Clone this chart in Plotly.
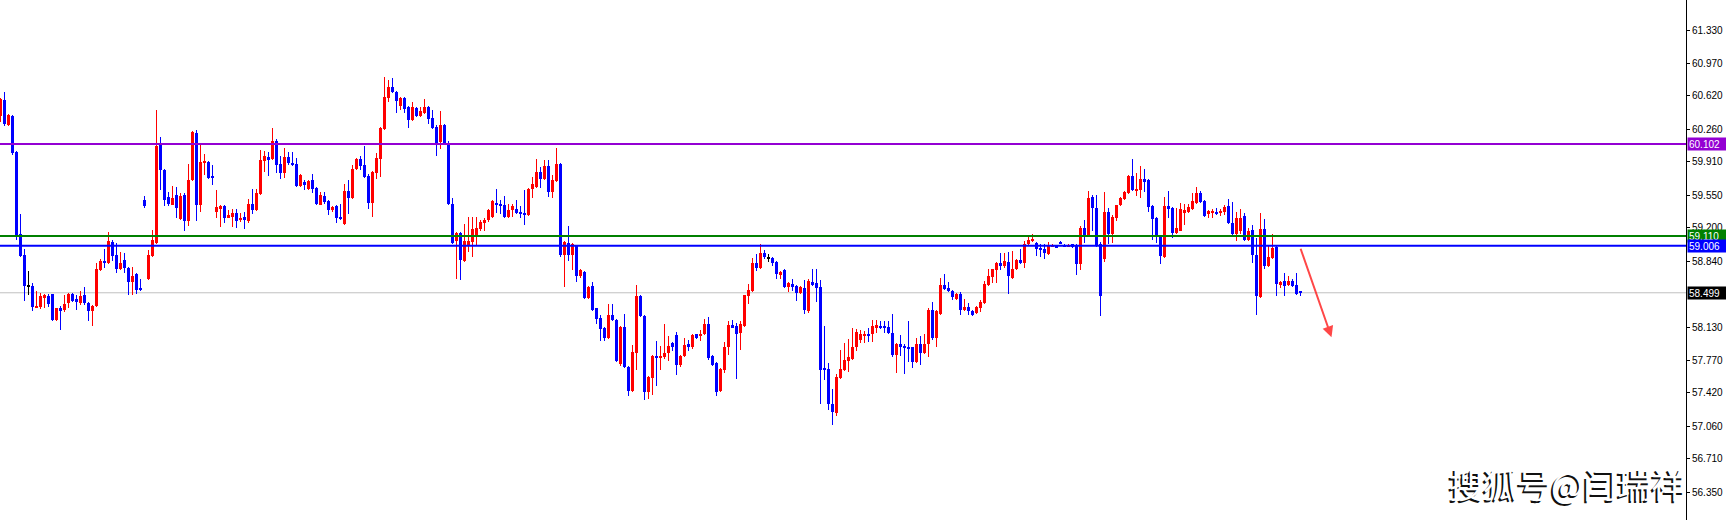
import plotly.graph_objs as go

# OHLC values (one entry per bar, left to right)
open_ = [
    60.40, 60.58, 60.31, 60.40, 60.02, 59.13, 58.91, 58.57, 58.57, 58.34,
    58.35, 58.44, 58.46, 58.49, 58.21, 58.33, 58.31, 58.39, 58.49, 58.43,
    58.39, 58.47, 58.39, 58.30, 58.36, 58.74, 58.84, 58.82, 59.05, 58.91,
    58.75, 58.85, 58.77, 58.62, 58.70, 58.55, 59.50, 58.65, 58.90, 59.04,
    60.09, 59.82, 59.53, 59.45, 59.55, 59.29, 59.55, 59.27, 59.71, 60.22,
    59.44, 59.90, 59.91, 59.75, 59.37, 59.40, 59.43, 59.31, 59.32, 59.36,
    59.28, 59.32, 59.27, 59.46, 59.39, 59.56, 59.92, 59.96, 59.94, 60.14,
    59.89, 59.79, 59.96, 59.90, 59.89, 59.65, 59.69, 59.62, 59.71, 59.63,
    59.45, 59.54, 59.49, 59.39, 59.43, 59.32, 59.24, 59.60, 59.52, 59.83,
    59.94, 59.88, 59.76, 59.47, 59.79, 59.94, 60.26, 60.60, 60.72, 60.66,
    60.51, 60.60, 60.50, 60.36, 60.49, 60.40, 60.44, 60.50, 60.38, 60.29,
    60.12, 60.31, 60.11, 59.46, 59.06, 59.14, 58.84, 59.00, 59.05, 59.11,
    59.19, 59.25, 59.28, 59.32, 59.47, 59.46, 59.44, 59.32, 59.39, 59.40,
    59.37, 59.36, 59.34, 59.62, 59.64, 59.80, 59.72, 59.86, 59.59, 59.70,
    59.89, 58.91, 59.04, 58.91, 59.00, 58.68, 58.72, 58.44, 58.57, 58.33,
    58.23, 58.12, 58.01, 58.26, 58.21, 57.73, 58.13, 57.70, 57.44, 57.85,
    58.46, 58.25, 57.43, 57.58, 57.82, 57.80, 57.81, 57.85, 57.96, 58.04,
    57.72, 57.82, 57.95, 57.91, 58.05, 58.03, 58.05, 58.16, 57.82, 57.74,
    57.44, 57.67, 57.91, 58.15, 58.14, 58.07, 58.14, 58.46, 58.52, 58.82,
    58.77, 58.93, 58.87, 58.87, 58.83, 58.70, 58.74, 58.56, 58.59, 58.57,
    58.50, 58.55, 58.30, 58.61, 58.60, 58.56, 57.68, 57.68, 57.30, 57.20,
    57.58, 57.67, 57.76, 57.79, 57.91, 57.99, 58.04, 58.05, 58.05, 58.13,
    58.14, 58.13, 58.13, 58.07, 57.83, 57.95, 57.93, 57.92, 57.91, 57.75,
    57.95, 57.85, 57.95, 58.31, 58.01, 58.27, 58.58, 58.55, 58.52, 58.43,
    58.49, 58.31, 58.35, 58.30, 58.28, 58.34, 58.39, 58.58, 58.67, 58.74,
    58.82, 58.79, 58.83, 58.66, 58.75, 58.85, 58.82, 59.02, 59.06, 59.04,
    58.98, 58.97, 58.92, 59.00, 59.00, 59.05, 59.01, 59.00, 59.02, 59.01,
    58.81, 59.20, 59.11, 59.53, 59.41, 59.02, 58.86, 59.37, 59.13, 59.31,
    59.44, 59.51, 59.57, 59.76, 59.60, 59.61, 59.72, 59.71, 59.43, 59.31,
    59.10, 58.89, 59.43, 59.41, 59.14, 59.17, 59.36, 59.37, 59.40, 59.47,
    59.57, 59.49, 59.35, 59.36, 59.37, 59.36, 59.37, 59.43, 59.25, 59.13,
    59.17, 59.33, 59.07, 59.18, 58.91, 58.45, 59.19, 58.79, 58.87, 58.99,
    58.58, 58.63, 58.58, 58.63, 58.58, 58.51,
]
high = [
    60.60, 60.66, 60.43, 60.41, 60.03, 59.35, 58.97, 58.73, 58.60, 58.52,
    58.50, 58.49, 58.49, 58.49, 58.34, 58.36, 58.48, 58.50, 58.50, 58.47,
    58.52, 58.56, 58.40, 58.37, 58.82, 58.86, 58.97, 59.15, 59.07, 59.04,
    58.94, 58.93, 58.78, 58.78, 58.71, 58.65, 59.54, 58.96, 59.18, 60.47,
    60.18, 59.83, 59.59, 59.65, 59.64, 59.57, 59.57, 59.89, 60.24, 60.25,
    60.11, 59.99, 59.92, 59.88, 59.61, 59.44, 59.44, 59.39, 59.40, 59.40,
    59.36, 59.37, 59.51, 59.62, 59.62, 60.04, 60.03, 60.02, 60.27, 60.16,
    59.97, 60.06, 60.02, 60.02, 59.95, 59.78, 59.71, 59.71, 59.78, 59.64,
    59.59, 59.58, 59.50, 59.43, 59.44, 59.46, 59.67, 59.71, 59.88, 59.95,
    59.97, 60.08, 59.78, 59.81, 60.00, 60.29, 60.82, 60.79, 60.81, 60.67,
    60.61, 60.61, 60.51, 60.55, 60.50, 60.50, 60.59, 60.51, 60.47, 60.31,
    60.46, 60.32, 60.14, 59.52, 59.15, 59.15, 59.24, 59.32, 59.32, 59.32,
    59.28, 59.31, 59.40, 59.50, 59.62, 59.50, 59.54, 59.46, 59.46, 59.50,
    59.43, 59.61, 59.63, 59.75, 59.94, 59.85, 59.93, 59.93, 59.77, 60.06,
    59.90, 59.06, 59.22, 59.04, 59.01, 58.76, 58.73, 58.57, 58.62, 58.34,
    58.26, 58.13, 58.38, 58.38, 58.22, 58.14, 58.27, 57.71, 57.94, 58.58,
    58.47, 58.26, 57.60, 57.83, 57.98, 57.93, 58.16, 58.03, 57.97, 58.08,
    57.83, 58.01, 57.99, 58.05, 58.06, 58.10, 58.22, 58.24, 57.83, 57.75,
    57.69, 57.97, 58.20, 58.21, 58.17, 58.19, 58.48, 58.59, 58.87, 58.92,
    59.02, 58.96, 58.92, 58.88, 58.84, 58.73, 58.75, 58.61, 58.65, 58.58,
    58.57, 58.64, 58.65, 58.75, 58.75, 58.64, 58.14, 57.74, 57.46, 57.62,
    57.88, 57.96, 58.00, 58.12, 58.11, 58.10, 58.09, 58.12, 58.21, 58.21,
    58.19, 58.19, 58.19, 58.27, 57.96, 58.04, 57.95, 58.19, 57.92, 58.01,
    58.03, 58.05, 58.33, 58.40, 58.31, 58.66, 58.70, 58.62, 58.53, 58.50,
    58.51, 58.43, 58.39, 58.31, 58.36, 58.42, 58.63, 58.75, 58.76, 58.83,
    58.93, 58.93, 58.94, 58.95, 58.86, 58.97, 59.06, 59.12, 59.13, 59.05,
    59.02, 59.03, 59.05, 59.02, 59.01, 59.06, 59.02, 59.02, 59.03, 59.02,
    59.22, 59.28, 59.60, 59.55, 59.55, 59.05, 59.59, 59.41, 59.34, 59.45,
    59.53, 59.60, 59.77, 59.94, 59.79, 59.87, 59.83, 59.72, 59.44, 59.32,
    59.11, 59.53, 59.60, 59.42, 59.41, 59.47, 59.46, 59.46, 59.57, 59.64,
    59.60, 59.50, 59.39, 59.40, 59.41, 59.40, 59.45, 59.51, 59.48, 59.37,
    59.40, 59.36, 59.20, 59.23, 59.09, 59.36, 59.29, 59.00, 59.13, 59.00,
    58.63, 58.71, 58.68, 58.65, 58.71, 58.52,
]
low = [
    60.34, 60.30, 60.30, 59.98, 59.07, 58.89, 58.41, 58.48, 58.30, 58.33,
    58.32, 58.33, 58.35, 58.19, 58.20, 58.10, 58.29, 58.33, 58.40, 58.31,
    58.37, 58.37, 58.20, 58.14, 58.35, 58.73, 58.77, 58.81, 58.84, 58.71,
    58.74, 58.71, 58.47, 58.47, 58.49, 58.52, 59.41, 58.64, 58.89, 59.03,
    59.61, 59.43, 59.43, 59.44, 59.30, 59.28, 59.16, 59.22, 59.70, 59.27,
    59.37, 59.77, 59.72, 59.66, 59.31, 59.21, 59.25, 59.30, 59.21, 59.20,
    59.26, 59.19, 59.25, 59.35, 59.38, 59.55, 59.80, 59.76, 59.93, 59.79,
    59.73, 59.74, 59.88, 59.86, 59.64, 59.64, 59.61, 59.61, 59.57, 59.44,
    59.44, 59.46, 59.34, 59.37, 59.25, 59.28, 59.23, 59.35, 59.51, 59.82,
    59.82, 59.74, 59.40, 59.32, 59.72, 59.75, 60.25, 60.55, 60.65, 60.44,
    60.47, 60.44, 60.28, 60.35, 60.39, 60.39, 60.43, 60.32, 60.26, 59.97,
    60.05, 60.10, 59.45, 59.02, 58.65, 58.64, 58.83, 58.94, 58.89, 59.01,
    59.16, 59.16, 59.26, 59.31, 59.36, 59.35, 59.31, 59.31, 59.32, 59.35,
    59.31, 59.23, 59.33, 59.52, 59.63, 59.63, 59.71, 59.53, 59.52, 59.69,
    58.89, 58.56, 58.84, 58.74, 58.61, 58.66, 58.43, 58.43, 58.30, 58.16,
    57.98, 57.98, 58.00, 58.20, 57.75, 57.71, 57.69, 57.39, 57.43, 57.67,
    58.24, 57.34, 57.35, 57.40, 57.49, 57.67, 57.79, 57.76, 57.87, 57.61,
    57.70, 57.81, 57.87, 57.89, 58.00, 57.98, 58.04, 57.78, 57.71, 57.39,
    57.43, 57.64, 57.83, 58.12, 57.57, 57.88, 58.13, 58.38, 58.51, 58.73,
    58.76, 58.86, 58.83, 58.79, 58.65, 58.65, 58.55, 58.51, 58.52, 58.41,
    58.49, 58.27, 58.28, 58.57, 58.40, 57.30, 57.56, 57.24, 57.07, 57.17,
    57.57, 57.66, 57.65, 57.78, 57.87, 57.96, 57.96, 57.97, 57.97, 58.07,
    58.11, 58.07, 58.05, 57.81, 57.64, 57.82, 57.62, 57.75, 57.69, 57.74,
    57.72, 57.84, 57.81, 57.99, 57.91, 58.26, 58.53, 58.51, 58.42, 58.42,
    58.26, 58.30, 58.26, 58.25, 58.27, 58.29, 58.38, 58.57, 58.60, 58.60,
    58.74, 58.77, 58.49, 58.65, 58.74, 58.81, 58.77, 59.00, 59.05, 58.90,
    58.89, 58.86, 58.91, 58.99, 58.98, 59.02, 58.99, 58.99, 58.98, 58.69,
    58.74, 59.04, 59.10, 59.17, 58.99, 58.25, 58.83, 59.03, 59.04, 59.27,
    59.43, 59.50, 59.56, 59.60, 59.54, 59.52, 59.58, 59.37, 59.07, 59.04,
    58.81, 58.87, 59.31, 59.09, 59.13, 59.16, 59.23, 59.36, 59.39, 59.46,
    59.47, 59.32, 59.30, 59.30, 59.34, 59.33, 59.34, 59.24, 59.12, 59.06,
    59.13, 59.06, 59.06, 58.82, 58.26, 58.44, 58.75, 58.78, 58.86, 58.46,
    58.55, 58.46, 58.57, 58.56, 58.48, 58.46,
]
close = [
    60.59, 60.32, 60.41, 60.01, 59.11, 58.90, 58.57, 58.57, 58.35, 58.36,
    58.46, 58.48, 58.38, 58.21, 58.33, 58.31, 58.38, 58.49, 58.41, 58.40,
    58.46, 58.39, 58.30, 58.36, 58.76, 58.84, 58.82, 59.06, 58.90, 58.75,
    58.82, 58.77, 58.62, 58.68, 58.53, 58.53, 59.43, 58.91, 59.07, 60.08,
    59.82, 59.50, 59.46, 59.52, 59.41, 59.54, 59.27, 59.71, 60.23, 59.44,
    59.91, 59.92, 59.74, 59.74, 59.42, 59.43, 59.31, 59.34, 59.36, 59.27,
    59.31, 59.28, 59.46, 59.39, 59.57, 59.93, 59.97, 59.94, 60.14, 59.88,
    59.79, 59.96, 59.90, 59.88, 59.65, 59.77, 59.66, 59.70, 59.62, 59.46,
    59.55, 59.48, 59.39, 59.42, 59.31, 59.29, 59.60, 59.52, 59.83, 59.94,
    59.87, 59.75, 59.47, 59.80, 59.95, 60.27, 60.61, 60.72, 60.66, 60.57,
    60.60, 60.48, 60.36, 60.50, 60.40, 60.46, 60.50, 60.37, 60.27, 60.11,
    60.31, 60.11, 59.46, 59.04, 59.14, 58.85, 59.06, 59.06, 59.19, 59.20,
    59.26, 59.28, 59.39, 59.49, 59.45, 59.44, 59.32, 59.39, 59.43, 59.36,
    59.35, 59.34, 59.62, 59.67, 59.80, 59.72, 59.86, 59.59, 59.71, 59.89,
    58.91, 59.05, 58.91, 59.03, 58.68, 58.74, 58.44, 58.56, 58.31, 58.22,
    58.11, 58.01, 58.26, 58.21, 57.76, 58.13, 57.70, 57.44, 57.86, 58.46,
    58.25, 57.43, 57.59, 57.82, 57.80, 57.82, 57.85, 57.93, 57.92, 57.72,
    57.82, 57.94, 57.91, 58.04, 58.01, 58.06, 58.16, 57.80, 57.72, 57.43,
    57.68, 57.91, 58.15, 58.13, 58.05, 58.16, 58.47, 58.53, 58.82, 58.77,
    58.93, 58.88, 58.87, 58.82, 58.70, 58.72, 58.56, 58.60, 58.56, 58.50,
    58.56, 58.31, 58.63, 58.59, 58.55, 57.67, 57.67, 57.30, 57.21, 57.59,
    57.68, 57.77, 57.81, 57.92, 58.08, 58.05, 58.06, 58.04, 58.14, 58.15,
    58.13, 58.12, 58.07, 57.83, 57.95, 57.92, 57.91, 57.90, 57.75, 57.95,
    57.85, 57.95, 58.31, 58.01, 58.30, 58.58, 58.54, 58.52, 58.45, 58.49,
    58.31, 58.35, 58.30, 58.26, 58.35, 58.40, 58.59, 58.68, 58.75, 58.82,
    58.79, 58.84, 58.68, 58.76, 58.85, 58.82, 59.02, 59.07, 59.08, 58.97,
    58.96, 58.93, 59.01, 59.01, 58.99, 59.03, 59.00, 59.01, 59.00, 58.81,
    59.20, 59.11, 59.52, 59.41, 59.00, 58.46, 59.37, 59.13, 59.32, 59.44,
    59.52, 59.58, 59.76, 59.61, 59.62, 59.72, 59.70, 59.42, 59.29, 59.10,
    58.90, 59.43, 59.40, 59.14, 59.20, 59.40, 59.39, 59.42, 59.49, 59.57,
    59.48, 59.33, 59.38, 59.38, 59.35, 59.37, 59.42, 59.25, 59.13, 59.31,
    59.31, 59.07, 59.17, 58.91, 58.46, 59.19, 58.79, 58.89, 58.98, 58.59,
    58.62, 58.57, 58.63, 58.57, 58.49, 58.499,
]

# price axis labels as printed on the right scale
tick_vals = [61.330, 60.970, 60.620, 60.260, 59.910, 59.550, 59.200,
             58.840, 58.130, 57.770, 57.420, 57.060, 56.710, 56.350]

# horizontal levels drawn on the chart and their tag colours
level_vals = [60.102, 59.110, 59.006]
level_colors = ["#9400D3", "#008000", "#0000FF"]
last_price = 58.499

UP = "#FF0000"
DOWN = "#0000FF"
DOJI = "#000000"
FONT = "Tahoma, Liberation Sans, Arial, sans-serif"


def candle_colors():
    cols = []
    for o, c in zip(open_, close):
        if c > o:
            cols.append(UP)
        elif c < o:
            cols.append(DOWN)
        else:
            cols.append(DOJI)
    return cols


def mk_candles():
    idx = list(range(len(close)))
    cols = candle_colors()
    # wicks: thin bars from low to high
    wicks = go.Bar(
        x=idx,
        base=low,
        y=[h - l for h, l in zip(high, low)],
        width=0.25,
        marker=dict(color=cols, line=dict(width=0)),
        hoverinfo="skip",
    )
    # bodies: a doji still gets a one pixel body
    bodies = go.Bar(
        x=idx,
        base=[min(o, c) for o, c in zip(open_, close)],
        y=[max(abs(c - o), 0.011) for o, c in zip(open_, close)],
        width=0.75,
        marker=dict(color=cols, line=dict(width=0)),
        customdata=list(zip(open_, high, low, close)),
        hovertemplate="O %{customdata[0]}<br>H %{customdata[1]}<br>"
        "L %{customdata[2]}<br>C %{customdata[3]}<extra></extra>",
    )
    return [wicks, bodies]


fig = go.Figure(data=mk_candles())

shapes = []
annotations = []
for val, col in zip(level_vals, level_colors):
    shapes.append(
        dict(type="line", xref="paper", x0=0, x1=1, yref="y", y0=val, y1=val,
             line=dict(color=col, width=2), layer="above")
    )
shapes.append(
    dict(type="line", xref="paper", x0=0, x1=1, yref="y", y0=last_price,
         y1=last_price, line=dict(color="#C0C0C0", width=1), layer="below")
)

# price tags on the scale
for val, col in zip(level_vals + [last_price], level_colors + ["#000000"]):
    annotations.append(
        dict(
            x=1, xref="paper", xanchor="left", xshift=1,
            y=val, yref="y", yanchor="middle",
            text=f"{val:.3f}", showarrow=False,
            bgcolor=col, borderpad=1, width=37, height=10, align="left",
            font=dict(family=FONT, size=10, color="white"),
        )
    )

# the hand drawn red arrow
annotations.append(
    dict(
        x=332.75, y=58.02, xref="x", yref="y",
        ax=324.9, ay=58.99, axref="x", ayref="y",
        showarrow=True, arrowhead=2, arrowsize=1.1, arrowwidth=2,
        arrowcolor="rgba(255,40,40,0.85)", text="",
    )
)

# watermark: white glyphs with a dark shadow
for dx, dy, col in [(-2, -2, "#111111"), (0, 0, "#FFFFFF")]:
    annotations.append(
        dict(
            x=1567 / 1686, y=1 - 483 / 520, xref="paper", yref="paper",
            xanchor="center", yanchor="middle", xshift=dx, yshift=dy,
            text="搜狐号@闫瑞祥", showarrow=False,
            font=dict(family="Noto Sans CJK SC", size=34, color=col),
        )
    )

fig.update_layout(
    width=1726,
    height=520,
    margin=dict(l=0, r=40, t=0, b=0),
    plot_bgcolor="white",
    paper_bgcolor="white",
    showlegend=False,
    barmode="overlay",
    bargap=0,
    shapes=shapes,
    annotations=annotations,
    xaxis=dict(visible=False, range=[-0.125, 421.375], fixedrange=True),
    yaxis=dict(
        side="right",
        range=[56.0505, 61.654],
        tickvals=tick_vals,
        ticktext=[f"{v:.3f}" for v in tick_vals],
        ticks="outside",
        ticklen=3,
        tickcolor="black",
        showline=True,
        linecolor="black",
        linewidth=1,
        showgrid=False,
        zeroline=False,
        automargin=False,
        tickfont=dict(family=FONT, size=10, color="black"),
        fixedrange=True,
    ),
)

# the page body has an 8px default margin; drop it so the chart sits at 0,0
fig.write_html(
    "out.html",
    config={"displayModeBar": False},
    post_script="document.body.style.margin='0';document.body.style.overflow='hidden';",
)
